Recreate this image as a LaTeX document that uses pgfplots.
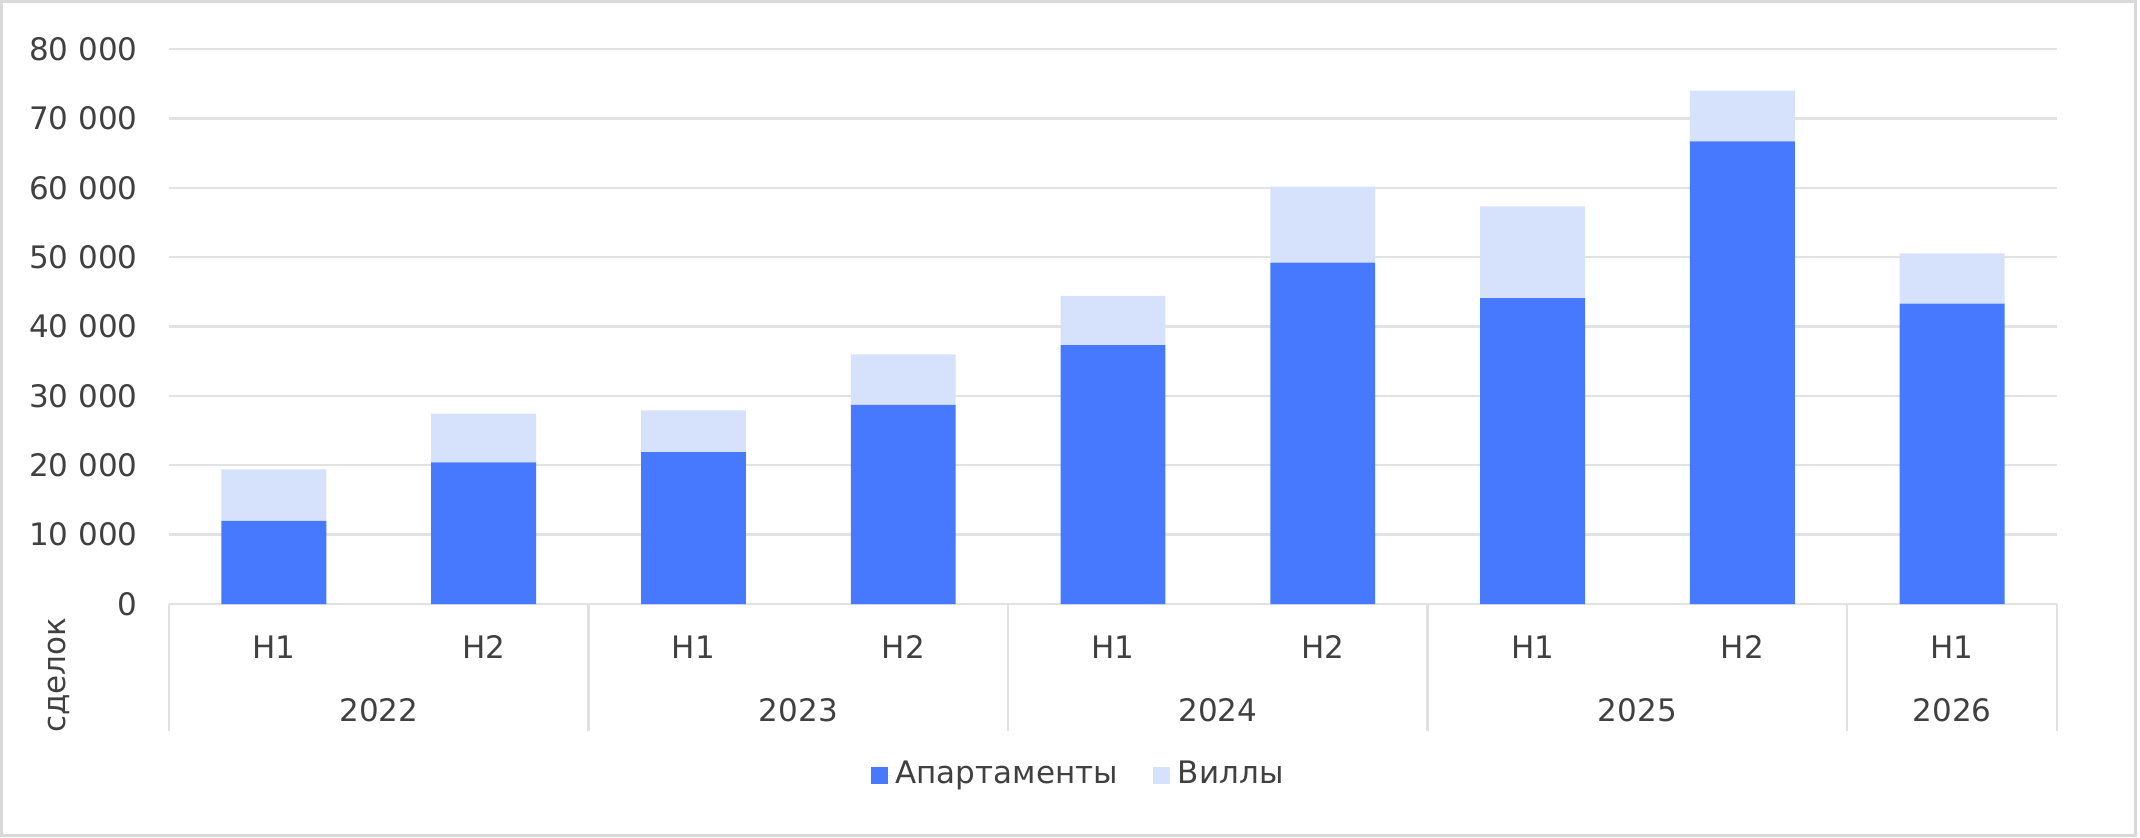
\documentclass[border=0pt]{standalone}
\usepackage{pgfplots}
\pgfplotsset{compat=1.18}
\usepackage{fontspec}
\setmainfont{DejaVu Sans}
\definecolor{apt}{HTML}{4779FF}
\definecolor{vil}{HTML}{D6E2FC}
\definecolor{gridc}{HTML}{E2E2E2}
\definecolor{txt}{HTML}{404040}
\definecolor{framec}{HTML}{D9D9D9}
\begin{document}
\begin{tikzpicture}
\fontsize{15.5}{18.6}\selectfont
\path[use as bounding box] (0,0) rectangle (1070pt,418.5pt);
\draw[framec, line width=1.5pt] (0.75pt,1pt) rectangle (1067.5pt,417.75pt);
\begin{axis}[
  at={(84.5pt,116.5pt)}, anchor=south west,
  scale only axis, width=944pt, height=277.5pt,
  ybar stacked, bar width=0.5,
  enlargelimits=false,
  xmin=-0.5, xmax=8.5, ymin=0, ymax=80000,
  xtick={0,...,8}, xticklabels={H1,H2,H1,H2,H1,H2,H1,H2,H1},
  ytick={0,10000,...,80000},
  scaled y ticks=false,
  ymajorgrids, grid style={gridc, line width=1.2pt},
  axis line style={draw=none},
  major tick length=0pt,
  clip=false,
  /pgf/number format/assume math mode=true,
  /pgf/number format/1000 sep={\ },
  tick label style={font=\fontsize{15.5}{18.6}\selectfont, text=txt, inner sep=0pt},
  xticklabel style={anchor=center, yshift=-21.5pt},
  yticklabel style={anchor=east, xshift=-15.5pt},
  legend columns=-1,
  legend style={at={(0.5,0)}, anchor=center, xshift=-17pt, yshift=-85.5pt,
    draw=none, fill=none, font=\fontsize{15.5}{18.6}\selectfont, text=txt,
    nodes={inner sep=2pt},
    /tikz/every even column/.append style={column sep=15.5pt}},
  legend image code/.code={\fill[#1,draw=none] (0pt,-4.25pt) rectangle (8.5pt,4.25pt); \path (0pt,0pt) -- (10.5pt,0pt);},
]
\addplot[fill=apt, draw=none] coordinates {(0,12000) (1,20400) (2,21900) (3,28700) (4,37300) (5,49200) (6,44100) (7,66700) (8,43300)};
\addplot[fill=vil, draw=none] coordinates {(0,7400) (1,7050) (2,6000) (3,7300) (4,7100) (5,10950) (6,13200) (7,7300) (8,7250)};
\legend{Апартаменты, Виллы}
\foreach \s in {-0.5,1.5,3.5,5.5,7.5,8.5} {
  \edef\temp{\noexpand\draw[gridc, line width=1.2pt] (axis cs:\s,0) -- ++(0pt,-63.5pt);}
  \temp
}
\node[text=txt] at (axis cs:0.5,0) [yshift=-53.25pt] {2022};
\node[text=txt] at (axis cs:2.5,0) [yshift=-53.25pt] {2023};
\node[text=txt] at (axis cs:4.5,0) [yshift=-53.25pt] {2024};
\node[text=txt] at (axis cs:6.5,0) [yshift=-53.25pt] {2025};
\node[text=txt] at (axis cs:8,0) [yshift=-53.25pt] {2026};
\end{axis}
\node[rotate=90, text=txt] at (29.5pt,81pt) {сделок};
\end{tikzpicture}
\end{document}
